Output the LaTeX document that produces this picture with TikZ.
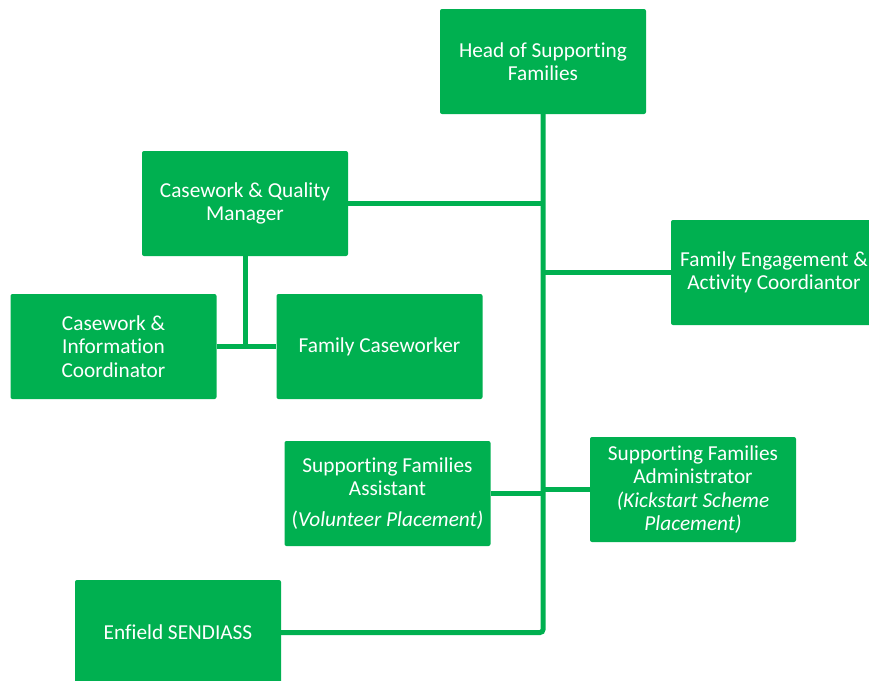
\documentclass[tikz,border=0pt]{standalone}
\usepackage{fontspec}
\setmainfont{Carlito}[Ligatures={NoCommon}]
\definecolor{og}{HTML}{00B050}
\begin{document}
\begin{tikzpicture}[x=1pt,y=-1pt,
  box/.style={fill=og, text=white, minimum width=206pt, minimum height=105pt,
    rounded corners=2pt, align=center, inner sep=0pt,
    font=\fontsize{21.3}{23.5}\selectfont},
  link/.style={draw=og, line width=5pt}]
\useasboundingbox (0,0) rectangle (869,680);
\node[box] (head) at (543,61.5) {Head of Supporting\\Families};
\node[box] (cqm) at (245,203.5) {Casework \& Quality\\Manager};
\node[box] (cic) at (113.5,346.5) {Casework \&\\Information\\Coordinator};
\node[box] (fc) at (379.5,346.5) {Family Caseworker};
\node[box] (fe) at (774,272.5) {Family Engagement \&\\Activity Coordiantor};
\node[box] (sfa) at (387.5,493.5) {Supporting Families\\Assistant\\[7pt](\textit{Volunteer Placement)}};
\node[box] (adm) at (693,489.5) {Supporting Families\\Administrator\\\textit{(Kickstart Scheme}\\\textit{Placement)}};
\node[box] (sen) at (178,632.5) {Enfield SENDIASS};
\draw[link, rounded corners=3pt] (head.south) |- (sen.east);
\draw[link] (cqm.east) -- (cqm.east -| head.south);
\draw[link] (fe.west) -- (fe.west -| head.south);
\draw[link] (sfa.east) -- (sfa.east -| head.south);
\draw[link] (adm.west) -- (adm.west -| head.south);
\coordinate (cj) at (cqm.south |- fc.west);
\draw[link] (cqm.south) -- (cj);
\draw[link] (cic.east) -- (fc.west);
\end{tikzpicture}
\end{document}
